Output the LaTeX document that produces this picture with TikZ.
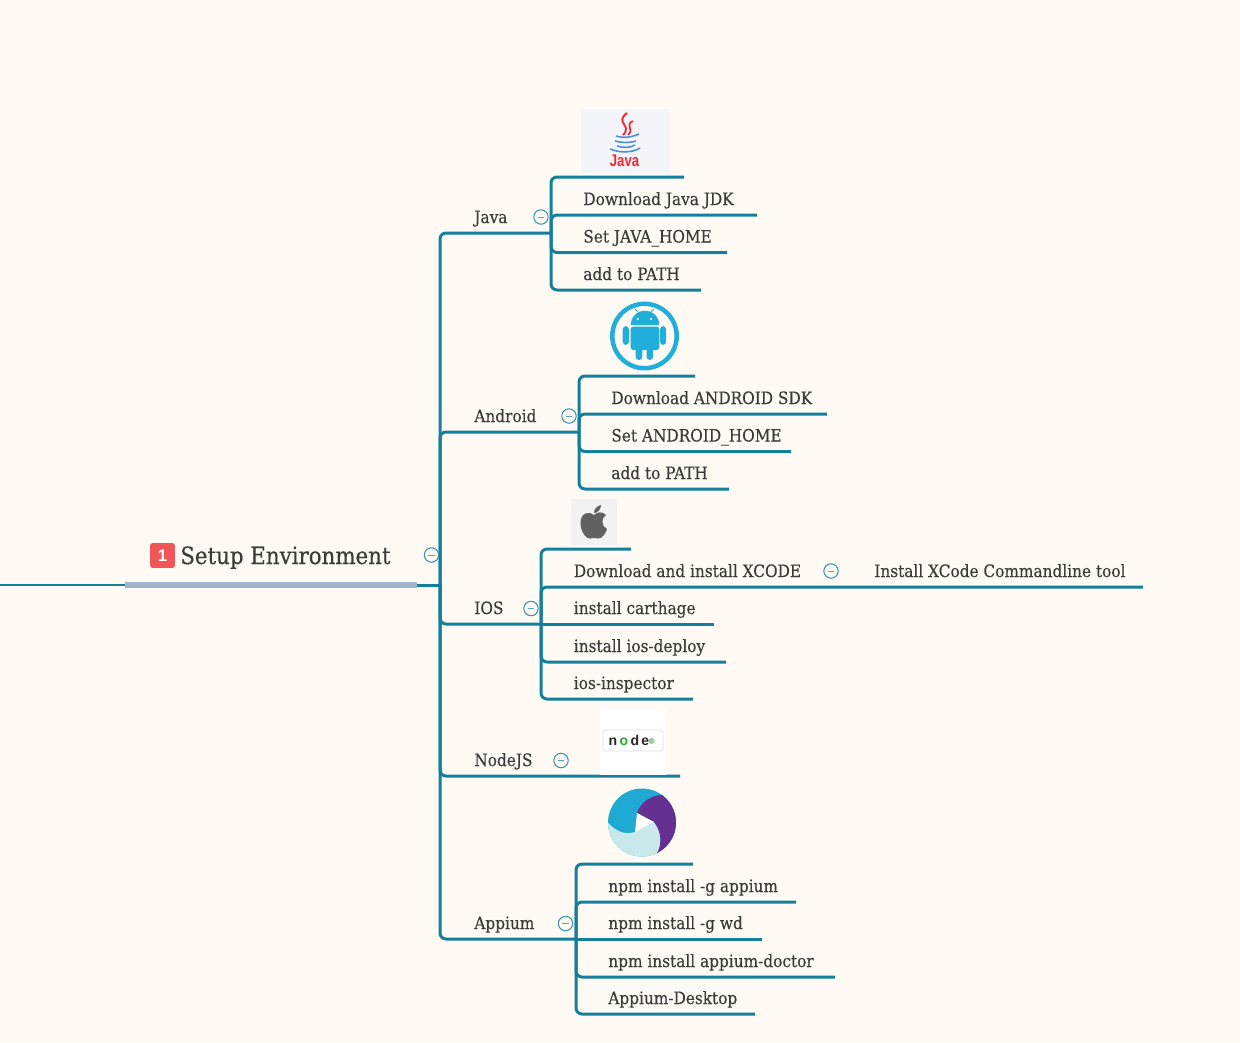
\documentclass[tikz,border=0pt]{standalone}
\usepackage{fontspec}
\setmainfont{DejaVu Serif Condensed}[RawFeature={embolden=0.35}]
\newfontfamily\iconfont{Liberation Sans}
\usetikzlibrary{positioning,calc}
\definecolor{bgcream}{HTML}{FFFBF4}
\definecolor{teal1}{HTML}{147F9C}
\definecolor{ink}{HTML}{3B3B3B}
\definecolor{rootbar}{HTML}{A0B4CC}
\definecolor{droid}{HTML}{22AEDA}
\definecolor{javared}{HTML}{EE2A37}
\definecolor{javablue}{HTML}{4A90D9}
\definecolor{javabox}{HTML}{F4F5F8}
\definecolor{appblue}{HTML}{1EAAD2}
\definecolor{applight}{HTML}{C9E8EC}
\definecolor{apppurple}{HTML}{653092}
\definecolor{badge}{HTML}{F05557}

\begin{document}
\begin{tikzpicture}[x=0.02cm,y=-0.02cm,
topic/.style={anchor=base west,inner sep=0pt,text=ink,font=\fontsize{9.7}{11}\selectfont},
roottopic/.style={anchor=base west,inner sep=0pt,text=ink,font=\fontsize{13.5}{16}\selectfont},
branch/.style={draw=teal1,line width=1.7pt,rounded corners=3.4pt},
fold/.style={circle,draw=teal1!85,line width=0.6pt,minimum size=8.2pt,inner sep=0pt,
 path picture={\draw[teal1!70,line width=0.5pt] ($(path picture bounding box.center)+(-1.8pt,0)$) -- ($(path picture bounding box.center)+(1.8pt,0)$);}}]
\useasboundingbox (0,0) rectangle (1240,1042);
\fill[bgcream] (0,0) rectangle (1240,1042);

\coordinate (roothub) at (440,585);
\coordinate (rootstart) at (0,585);
\coordinate (barleft) at (125,585);
\coordinate (barright) at (417,585);
\coordinate (javahub) at (551,233);
\coordinate (javatop) at (684,177);
\coordinate (jdkend) at (757,215);
\coordinate (homeend) at (727,252.5);
\coordinate (pathend) at (701,290);
\coordinate (androidhub) at (579,432);
\coordinate (androidtop) at (695,376);
\coordinate (sdkend) at (827,414);
\coordinate (ahomeend) at (791,451.5);
\coordinate (apathend) at (729,489);
\coordinate (ioshub) at (541,624);
\coordinate (iostop) at (631,549);
\coordinate (xcodeend) at (1143,587);
\coordinate (carthageend) at (714,624);
\coordinate (deployend) at (726,662);
\coordinate (inspectorend) at (693,699);
\coordinate (nodeend) at (680,776);
\coordinate (appiumhub) at (576,939);
\coordinate (appiumtop) at (693,864);
\coordinate (npmend) at (796,902);
\coordinate (wdend) at (762,939);
\coordinate (doctorend) at (835,977);
\coordinate (desktopend) at (755,1014);

\draw[teal1,line width=0.9pt] (rootstart) -- (barleft);
\draw[branch] (barright) -- (roothub);
\draw[rootbar,line width=3.4pt] (barleft) -- (barright);

\draw[branch] (javahub) -| (roothub) |- (appiumhub);
\draw[branch] (roothub) |- (androidhub);
\draw[branch] (roothub) |- (ioshub);
\draw[branch] (roothub) |- (nodeend);

\draw[branch] (javatop) -| (javahub) |- (pathend);
\draw[branch] (javahub) |- (jdkend);
\draw[branch] (javahub) |- (homeend);

\draw[branch] (androidtop) -| (androidhub) |- (apathend);
\draw[branch] (androidhub) |- (sdkend);
\draw[branch] (androidhub) |- (ahomeend);

\draw[branch] (iostop) -| (ioshub) |- (inspectorend);
\draw[branch] (ioshub) |- (xcodeend);
\draw[branch] (ioshub) -- (carthageend);
\draw[branch] (ioshub) |- (deployend);

\draw[branch] (appiumtop) -| (appiumhub) |- (desktopend);
\draw[branch] (appiumhub) |- (npmend);
\draw[branch] (appiumhub) -- (wdend);
\draw[branch] (appiumhub) |- (doctorend);

\node[rounded corners=1.5pt,fill=badge,minimum size=14.2pt,inner sep=0pt,text=white,font=\iconfont\bfseries\fontsize{9.5}{10}\selectfont] at (162.5,555.5) (rootbadge) {1};
\node[roottopic] at (180,564) (root) {Setup Environment};
\node[fold] at (431.5,555) (rootfold) {};

\node[topic] at (474,223) (java) {Java};
\node[fold] at (541,217) (javafold) {};
\node[topic] at (583,205) (jdk) {Download Java JDK};
\node[topic] at (583,242.5) (home) {Set JAVA\_HOME};
\node[topic] at (583,280) (path) {add to PATH};

\node[topic] at (474,422) (android) {Android};
\node[fold] at (569,416) (androidfold) {};
\node[topic] at (611,404) (sdk) {Download ANDROID SDK};
\node[topic] at (611,441.5) (ahome) {Set ANDROID\_HOME};
\node[topic] at (611,479) (apath) {add to PATH};

\node[topic] at (474,614) (ios) {IOS};
\node[fold] at (531,608.5) (iosfold) {};
\node[topic] at (573.5,577) (xcode) {Download and install XCODE};
\node[fold] at (831,571) (xcodefold) {};
\node[topic] at (874,577) (cmdline) {Install XCode Commandline tool};
\node[topic] at (573.5,614) (carthage) {install carthage};
\node[topic] at (573.5,652) (deploy) {install ios-deploy};
\node[topic] at (573.5,689) (inspector) {ios-inspector};

\node[topic] at (474,766) (nodejs) {NodeJS};
\node[fold] at (561,760.5) (nodefold) {};

\node[topic] at (474,929) (appium) {Appium};
\node[fold] at (565.5,923.5) (appiumfold) {};
\node[topic] at (608,892) (npm) {npm install -g appium};
\node[topic] at (608,929) (wd) {npm install -g wd};
\node[topic] at (608,967) (doctor) {npm install appium-doctor};
\node[topic] at (608,1004) (desktop) {Appium-Desktop};

% java logo
\fill[javabox] (581,109) rectangle (669.5,173);
\draw[javared,line width=1.1pt] (627,113) .. controls (614,123) and (633,125) .. (623,135);
\draw[javared,line width=1pt] (633,121) .. controls (624,125) and (635,129) .. (628,135);
\draw[javablue,line width=0.9pt] (616,136) .. controls (622,138) and (630,138) .. (639,134);
\draw[javablue,line width=0.9pt] (615,141) .. controls (622,143) and (630,143) .. (636,141);
\draw[javablue,line width=0.9pt] (617,146) .. controls (623,148) and (630,148) .. (635,145);
\draw[javablue,line width=0.9pt] (610,149) .. controls (620,153) and (632,153) .. (640,148);
\node[text=javared,inner sep=0pt,font=\iconfont\bfseries\fontsize{9.6}{10}\selectfont] at (624.5,161) (javalogo) {\scalebox{0.78}[1]{Java}};

% android logo
\draw[droid,line width=2.56pt] (644.5,336) circle (32.2);
\fill[droid] (630.7,325) arc (180:360:14.3) -- cycle;
\fill[droid,rounded corners=1.5pt] (630.7,326.5) rectangle (659.3,350);
\fill[droid,rounded corners=2pt] (622.7,326) rectangle (629,345);
\fill[droid,rounded corners=2pt] (660,326) rectangle (666.2,345);
\fill[droid,rounded corners=1.8pt] (635.7,345) rectangle (642.3,360);
\fill[droid,rounded corners=1.8pt] (646.5,345) rectangle (653,360);
\draw[droid,line width=0.5pt] (638,312) -- (635,309);
\draw[droid,line width=0.5pt] (651,312) -- (654,309);
\fill[white] (637.7,319) circle (1.2);
\fill[white] (651,319) circle (1.2);

% apple logo
\fill[black!5] (571,499) rectangle (617,545);
\fill[black!62] (594,515) .. controls (590,511) and (580,512) .. (580.5,524)
 .. controls (581,532) and (586,539) .. (590,538.5) .. controls (592,538) and (596,538) .. (598,538.5)
 .. controls (602,539) and (606,533) .. (607,529) .. controls (601,526) and (601,518) .. (606,515)
 .. controls (602,511) and (597,512) .. (594,515) -- cycle;
\fill[black!62] (594,513) .. controls (594,509) and (597,506) .. (601,505) .. controls (601,509) and (598,513) .. (594,513) -- cycle;

% node logo
\fill[white] (600,709) rectangle (666,775);
\draw[black!12,fill=white,rounded corners=1.5pt,line width=0.4pt] (603,730) rectangle (663,751);
\node[inner sep=0pt,text=black!85,font=\iconfont\bfseries\fontsize{8}{8}\selectfont] at (629,740.5) (nodelogo) {n\,\textcolor{green!55!black!80}{o}\,d\,e};
\fill[green!50!black!40] (651.5,741) circle (3);

% appium logo
\begin{scope}
\clip (642,822.5) circle (34);
\fill[appblue] (606,786) rectangle (678,859);
\fill[applight] (606,820) .. controls (615,832) and (625,835) .. (635,832) -- (654,822)
 .. controls (662,832) and (662,845) .. (657,853) -- (650,859) -- (606,859) -- cycle;
\fill[apppurple] (637,813) .. controls (640,803) and (650,796) .. (660,795) -- (678,795) -- (678,853) -- (657,853)
 .. controls (662,845) and (662,832) .. (654,822) -- cycle;
\fill[white] (637,813) -- (654,822) -- (635,832) -- cycle;
\end{scope}
\end{tikzpicture}
\end{document}
